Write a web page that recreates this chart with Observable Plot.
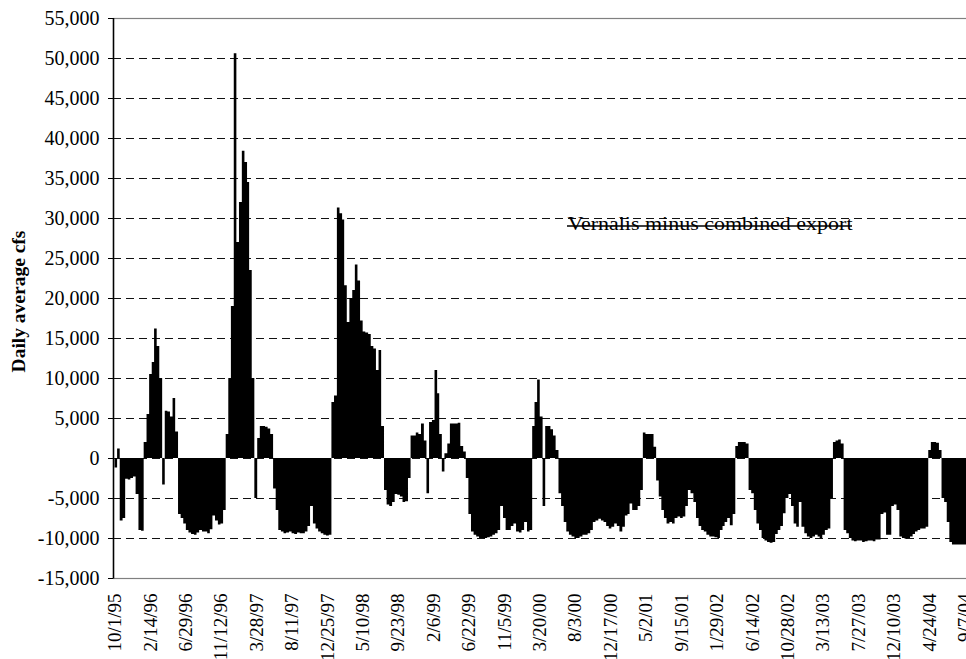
<!DOCTYPE html>
<html><head><meta charset="utf-8">
<script src="https://cdn.jsdelivr.net/npm/d3@7"></script>
<script src="https://cdn.jsdelivr.net/npm/@observablehq/plot@0.6"></script>
<style>
html,body{margin:0;padding:0;background:#fff;overflow:hidden}
#chart{width:966px;height:659px;overflow:hidden;position:relative}
</style></head><body><div id="chart"></div>
<script>
// Water years (Oct 1 - Sep 30); each array holds 36 ten-day (dekad) values, cfs
const waterYears = [1996, 1997, 1998, 1999, 2000, 2001, 2002, 2003, 2004];
const wy1996 = [-1200,1200,-7800,-7500,-2600,-2700,-2500,-2300,-4500,-9000,-9100,2000,5500,10500,12000,16200,14000,10000,-3300,5900,5800,5200,7500,3300,-7000,-7500,-8200,-9000,-9300,-9500,-9600,-9300,-9000,-9200,-9200,-9400];
const wy1997 = [-8900,-7200,-7800,-8300,-8200,-6500,3000,10000,19000,50600,27000,32000,38400,37000,34500,23500,10000,-5000,2500,4000,4000,3900,3700,3000,-3800,-6500,-9000,-9200,-9400,-9300,-9200,-9400,-9500,-9300,-9400,-9400];
const wy1998 = [-9200,-8500,-6000,-8200,-8800,-9200,-9400,-9600,-9700,-9600,7000,7800,31300,30600,29800,21600,17000,20000,21000,24200,22200,17200,15800,15700,15500,14000,13700,11000,13500,4000,-4000,-5800,-6000,-5500,-4500,-4600];
const wy1999 = [-4800,-5500,-5400,-2500,2800,2800,3200,3000,4300,2200,-4400,4500,4750,11000,8100,3000,-1700,600,1800,4300,4300,4300,4400,1500,800,-2500,-7000,-9200,-9600,-9800,-10000,-10000,-10000,-9900,-9800,-9600];
const wy2000 = [-9400,-9000,-6000,-7500,-9000,-9000,-8500,-8200,-9200,-9300,-9000,-8000,-9200,-9000,4000,7000,9800,5200,-6000,4000,4000,3600,2800,1000,-4400,-6000,-8000,-9200,-9600,-9800,-10000,-10000,-9800,-9600,-9600,-9400];
const wy2001 = [-9000,-8000,-7800,-7600,-7800,-8000,-8500,-8800,-8600,-8200,-8500,-9200,-8600,-7200,-7000,-5700,-6500,-6500,-6000,-4000,3200,3000,3000,3000,1400,-2800,-4800,-6500,-7500,-8200,-8000,-8200,-7500,-7300,-7500,-7300];
const wy2002 = [-6000,-4000,-4400,-5500,-7500,-8500,-9000,-9200,-9600,-9800,-9800,-9900,-10000,-9000,-8500,-8000,-7500,-8400,-7000,1500,2000,2000,2000,1800,-4000,-4400,-6500,-8200,-9000,-10000,-10300,-10500,-10600,-10500,-9500,-9000];
const wy2003 = [-8500,-6900,-5000,-4500,-6000,-8200,-8600,-5500,-8600,-9400,-9800,-10000,-9800,-9600,-9800,-10000,-9600,-9000,-8800,-5000,2000,2200,2300,1800,-9000,-9400,-10000,-10300,-10400,-10300,-10300,-10500,-10400,-10300,-10300,-10400];
const wy2004 = [-10200,-10200,-7000,-6800,-9600,-9600,-6000,-5800,-6500,-9800,-10000,-10100,-10000,-9800,-9500,-9200,-9000,-8800,-8800,-8600,1000,2000,2000,1900,1000,-5000,-5500,-8000,-10500,-10800,-10800,-10800,-10800,-10800,-10800,-10800];

const xTickLabels = ["10/1/95","2/14/96","6/29/96","11/12/96","3/28/97","8/11/97","12/25/97","5/10/98","9/23/98","2/6/99","6/22/99","11/5/99","3/20/00","8/3/00","12/17/00","5/2/01","9/15/01","1/29/02","6/14/02","10/28/02","3/13/03","7/27/03","12/10/03","4/24/04","9/7/04"];
const yTicks = [-15000,-10000,-5000,0,5000,10000,15000,20000,25000,30000,35000,40000,45000,50000,55000];
const gridValues = [-10000,-5000,0,5000,10000,15000,20000,25000,30000,35000,40000,45000,50000];
const legendLabel = "Vernalis minus combined export";
const yLabel = "Daily average cfs";

// build step points from the dekad periods (each value holds until the next period starts)
const seriesByYear = [wy1996, wy1997, wy1998, wy1999, wy2000, wy2001, wy2002, wy2003, wy2004];
const dekadStartDays = [1, 11, 21];
const points = [];
seriesByYear.forEach((vals, i) => {
  const wy = waterYears[i];
  vals.forEach((v, j) => {
    const m = Math.floor(j / 3);
    const month = (9 + m) % 12;
    const year = m < 3 ? wy - 1 : wy;
    points.push({date: new Date(Date.UTC(year, month, dekadStartDays[j % 3])), value: v});
  });
});
const lastYear = waterYears[waterYears.length - 1];
points.push({date: new Date(Date.UTC(lastYear, 9, 1)), value: points[points.length - 1].value}); // closes the final period

const parseTick = d3.utcParse("%m/%d/%y");
const xTickDates = xTickLabels.map(parseTick);
const labelByTime = new Map(xTickDates.map((d, i) => [+d, xTickLabels[i]]));

const chart = Plot.plot({
  width: 980, height: 659,
  marginLeft: 113, marginRight: 5, marginTop: 18, marginBottom: 81,
  style: {fontFamily: "'Liberation Serif', 'Times New Roman', serif", background: "white", maxWidth: "none", color: "black"},
  x: {type: "utc", domain: [new Date(Date.UTC(1995, 9, 1)), new Date(Date.UTC(2004, 9, 1))], range: [114.5, 970.7]},
  y: {domain: [-15000, 55000]},
  marks: [
    Plot.ruleY(gridValues, {stroke: "#111", strokeDasharray: "8,5", strokeWidth: 1}),
    Plot.areaY(points, {x: "date", y1: 0, y2: "value", curve: "step-after", fill: "black"}),
    Plot.frame({stroke: "#808080", strokeWidth: 1.2}),
    Plot.axisY({ticks: yTicks, tickFormat: d => d.toLocaleString("en-US"), tickSize: 5, tickPadding: 9, fontSize: 20, label: null}),
    Plot.axisX({ticks: xTickDates, tickFormat: d => labelByTime.get(+d), tickRotate: -90, tickSize: 0, tickPadding: 15, fontSize: 19, label: null}),
    Plot.text([yLabel], {text: d => d, frameAnchor: "left", textAnchor: "middle", rotate: -90, dx: -95, dy: 3, fontSize: 19.5, fontWeight: "bold"}),
    Plot.text([legendLabel], {text: d => d, frameAnchor: "top-left", textAnchor: "start", dx: 454, dy: 198, fontSize: 19})
  ]
});
document.getElementById("chart").appendChild(chart);

// decorations: black left axis line, legend underline and width
const svg = d3.select(chart);
svg.append("line").attr("x1", 113.5).attr("x2", 113.5).attr("y1", 18).attr("y2", 578.5).attr("stroke", "black").attr("stroke-width", 1.5);
svg.selectAll("text").filter(function() { return this.textContent === legendLabel; })
  .attr("textLength", 285).attr("lengthAdjust", "spacingAndGlyphs");
svg.append("line").attr("x1", 567).attr("x2", 852).attr("y1", 226).attr("y2", 226).attr("stroke", "black").attr("stroke-width", 1.6);
</script>
</body></html>
